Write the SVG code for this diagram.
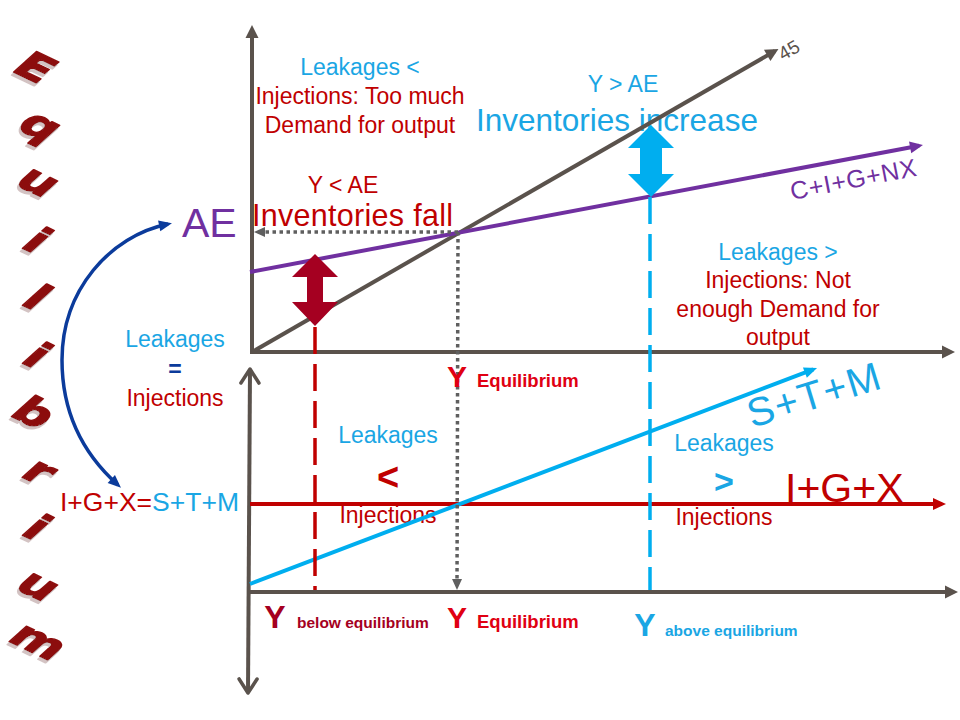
<svg xmlns="http://www.w3.org/2000/svg" width="960" height="720" viewBox="0 0 960 720">
<defs>
<style>
.t{font-family:"Liberation Sans",Arial,Helvetica,sans-serif}
.p{font-size:23px}
.b{font-weight:bold}
.mid{text-anchor:middle}
.cb{fill:#1AA6E4}
.cr{fill:#C00000}
.cc{fill:#A50021}
.cbr{fill:#E00012}
.cp{fill:#7030A0}
.cg{fill:#5A524C}
.eq text{font-family:"DejaVu Sans","Liberation Sans",sans-serif;font-weight:bold;font-size:44px;text-anchor:middle;fill:#8C0B0B;stroke:#8C0B0B;stroke-width:1.6;stroke-linejoin:round}
.ax{stroke:#5A524C;stroke-width:4;fill:none}
.dot{stroke:#5F5F5F;stroke-width:3.5;stroke-dasharray:3.5 3.5;fill:none}
.dash{stroke-width:3.5;stroke-dasharray:27 10;fill:none}
</style>
<filter id="sh" x="-20%" y="-20%" width="140%" height="140%">
<feDropShadow dx="-2" dy="3" stdDeviation="0.4" flood-color="#D3C3C3" flood-opacity="1"/>
</filter>
<marker id="triGray" markerUnits="userSpaceOnUse" viewBox="-12 -7 18 14" refX="0" refY="0" markerWidth="18" markerHeight="14" orient="auto">
<path d="M-9,-6.5 L4,0 L-9,6.5 z" fill="#5A524C"/>
</marker>
<marker id="triPurple" markerUnits="userSpaceOnUse" viewBox="-12 -7 18 14" refX="0" refY="0" markerWidth="18" markerHeight="14" orient="auto">
<path d="M-9,-6 L4,0 L-9,6 z" fill="#7030A0"/>
</marker>
<marker id="triBlue" markerUnits="userSpaceOnUse" viewBox="-12 -7 18 14" refX="0" refY="0" markerWidth="18" markerHeight="14" orient="auto">
<path d="M-9,-5.5 L4,0 L-9,5.5 z" fill="#00AEEF"/>
</marker>
<marker id="triRed" markerUnits="userSpaceOnUse" viewBox="-12 -7 18 14" refX="0" refY="0" markerWidth="18" markerHeight="14" orient="auto">
<path d="M-9,-6 L4,0 L-9,6 z" fill="#C00000"/>
</marker>
<marker id="triDot" markerUnits="userSpaceOnUse" viewBox="-10 -6 14 12" refX="0" refY="0" markerWidth="14" markerHeight="12" orient="auto">
<path d="M-7,-5 L4,0 L-7,5 z" fill="#5F5F5F"/>
</marker>
<marker id="triNavy" markerUnits="userSpaceOnUse" viewBox="-12 -7 18 14" refX="0" refY="0" markerWidth="18" markerHeight="14" orient="auto-start-reverse">
<path d="M-9,-5.5 L4,0 L-9,5.5 z" fill="#0B3B9B"/>
</marker>
<marker id="chevGray" markerUnits="userSpaceOnUse" viewBox="-18 -11 22 22" refX="0" refY="0" markerWidth="22" markerHeight="22" orient="auto-start-reverse">
<path d="M-14,-9 L0,0 L-14,9" fill="none" stroke="#5A524C" stroke-width="3.5" stroke-linecap="round" stroke-linejoin="round"/>
</marker>
</defs>
<rect x="0" y="0" width="960" height="720" fill="#FFFFFF"/>

<g id="title" class="eq" filter="url(#sh)">
<g transform="translate(36,67) scale(1.22,0.8) rotate(36)"><text y="16">E</text></g>
<g transform="translate(36,130) scale(1.22,0.8) rotate(36)"><text y="8">q</text></g>
<g transform="translate(37,183) scale(1.22,0.8) rotate(36)"><text y="12">u</text></g>
<g transform="translate(38,240) scale(1.22,0.8) rotate(36)"><text y="16">i</text></g>
<g transform="translate(38,297) scale(1.22,0.8) rotate(36)"><text y="16">l</text></g>
<g transform="translate(38,355) scale(1.22,0.8) rotate(36)"><text y="16">i</text></g>
<g transform="translate(35,412) scale(1.22,0.8) rotate(36)"><text y="16">b</text></g>
<g transform="translate(38,473) scale(1.22,0.8) rotate(36)"><text y="12">r</text></g>
<g transform="translate(38,527) scale(1.22,0.8) rotate(36)"><text y="16">i</text></g>
<g transform="translate(37,587) scale(1.22,0.8) rotate(36)"><text y="12">u</text></g>
<g transform="translate(37,643) scale(1.22,0.8) rotate(36)"><text y="12">m</text></g>
</g>

<g id="note-excess-demand" class="t p mid">
<text x="360" y="75" class="cb">Leakages &lt;</text>
<text x="360" y="104" class="cr">Injections: Too much</text>
<text x="360" y="133" class="cr">Demand for output</text>
</g>
<g id="note-inventories-increase" class="t">
<text x="623" y="92" class="p mid cb">Y &gt; AE</text>
<text x="476" y="131" class="cb" font-size="31.5">Inventories increase</text>
</g>
<g id="note-inventories-fall" class="t">
<text x="343" y="193" class="p mid cr">Y &lt; AE</text>
<text x="252" y="226" class="cr" font-size="30.5" textLength="201" lengthAdjust="spacing">Inventories fall</text>
</g>
<g id="label-ae" class="t">
<text x="182" y="237" class="cp" font-size="41">AE</text>
</g>
<g id="label-45" class="t">
<text transform="translate(783,61) rotate(-30)" class="cg" font-size="19">45</text>
</g>
<g id="label-cignx" class="t">
<text transform="translate(792,200) rotate(-11)" class="cp" font-size="25" textLength="128" lengthAdjust="spacing">C+I+G+NX</text>
</g>
<g id="note-deficient-demand" class="t p mid">
<text x="778" y="260" class="cb">Leakages &gt;</text>
<text x="778" y="288" class="cr">Injections: Not</text>
<text x="778" y="317" class="cr">enough Demand for</text>
<text x="778" y="345" class="cr">output</text>
</g>
<g id="note-equal" class="t p mid">
<text x="175" y="347" class="cb">Leakages</text>
<text x="175" y="377" class="b" fill="#0B3B9B">=</text>
<text x="175" y="406" class="cr">Injections</text>
</g>
<g id="label-identity" class="t">
<text x="60" y="511" font-size="26.5"><tspan class="cr">I+G+X=</tspan><tspan class="cb">S+T+M</tspan></text>
</g>
<g id="note-leak-less" class="t mid">
<text x="388" y="443" class="p cb">Leakages</text>
<text x="388" y="490" class="b cr" font-size="38">&lt;</text>
<text x="388" y="523" class="p cr">Injections</text>
</g>
<g id="note-leak-more" class="t mid">
<text x="724" y="451" class="p cb">Leakages</text>
<text x="724" y="493" class="b cb" font-size="34">&gt;</text>
<text x="724" y="525" class="p cr">Injections</text>
</g>
<g id="label-igx" class="t">
<text x="785" y="502" class="cr" font-size="41">I+G+X</text>
</g>
<g id="label-stm" class="t">
<text transform="translate(752,428) rotate(-17)" class="cb" font-size="40" textLength="137" lengthAdjust="spacing">S+T+M</text>
</g>

<g id="connectors">
<line class="ax" x1="252" y1="354" x2="252" y2="29" marker-end="url(#triGray)"/>
<line class="ax" x1="250" y1="352" x2="951" y2="352" marker-end="url(#triGray)"/>
<line class="ax" x1="252" y1="352" x2="775" y2="51" stroke-width="3.5" marker-end="url(#triGray)"/>
<line x1="250" y1="272" x2="919" y2="145.7" stroke="#7030A0" stroke-width="4" marker-end="url(#triPurple)"/>
<line class="ax" x1="250" y1="369" x2="248" y2="693" stroke-width="3.5" marker-start="url(#chevGray)" marker-end="url(#chevGray)"/>
<line class="ax" x1="248" y1="592" x2="954" y2="592" marker-end="url(#triGray)"/>
<line x1="250" y1="504" x2="942" y2="504" stroke="#C00000" stroke-width="4" marker-end="url(#triRed)"/>
<line x1="250" y1="584" x2="813.3" y2="369.4" stroke="#00AEEF" stroke-width="4" marker-end="url(#triBlue)"/>
<line class="dot" x1="458" y1="232" x2="258" y2="232" marker-end="url(#triDot)"/>
<line class="dot" x1="458" y1="232" x2="457" y2="586" marker-end="url(#triDot)"/>
<line class="dash" x1="315" y1="327" x2="315" y2="590" stroke="#C00000"/>
<line class="dash" x1="650" y1="197" x2="650" y2="590" stroke="#00AEEF"/>
<path d="M168,224 C110,236 62,290 62,360 C62,420 90,460 118,485" fill="none" stroke="#0B3B9B" stroke-width="3.5" marker-start="url(#triNavy)" marker-end="url(#triNavy)"/>
</g>

<g id="arrow-inventories-fall">
<polygon points="315,254 338,277 323,277 323,302 338,302 315,326 292,302 307,302 307,277 292,277" fill="#A50021"/>
</g>
<g id="arrow-inventories-increase">
<polygon points="651,125 674,148 662,148 662,174 674,174 651,197 628,174 640,174 640,148 628,148" fill="#00AEEF"/>
</g>

<g id="label-y-eq-top" class="t b">
<text x="457" y="387" class="mid cbr" font-size="30">Y</text>
<text x="477" y="387" class="cbr" font-size="18.5">Equilibrium</text>
</g>
<g id="label-y-below" class="t b">
<text x="275" y="628" class="mid cc" font-size="32">Y</text>
<text x="297" y="628" class="cc" font-size="15.5">below equilibrium</text>
</g>
<g id="label-y-eq-bottom" class="t b">
<text x="457" y="628" class="mid cbr" font-size="30">Y</text>
<text x="477" y="628" class="cbr" font-size="18.5">Equilibrium</text>
</g>
<g id="label-y-above" class="t b">
<text x="645" y="636" class="mid cb" font-size="32">Y</text>
<text x="665" y="636" class="cb" font-size="15.5">above equilibrium</text>
</g>
</svg>
